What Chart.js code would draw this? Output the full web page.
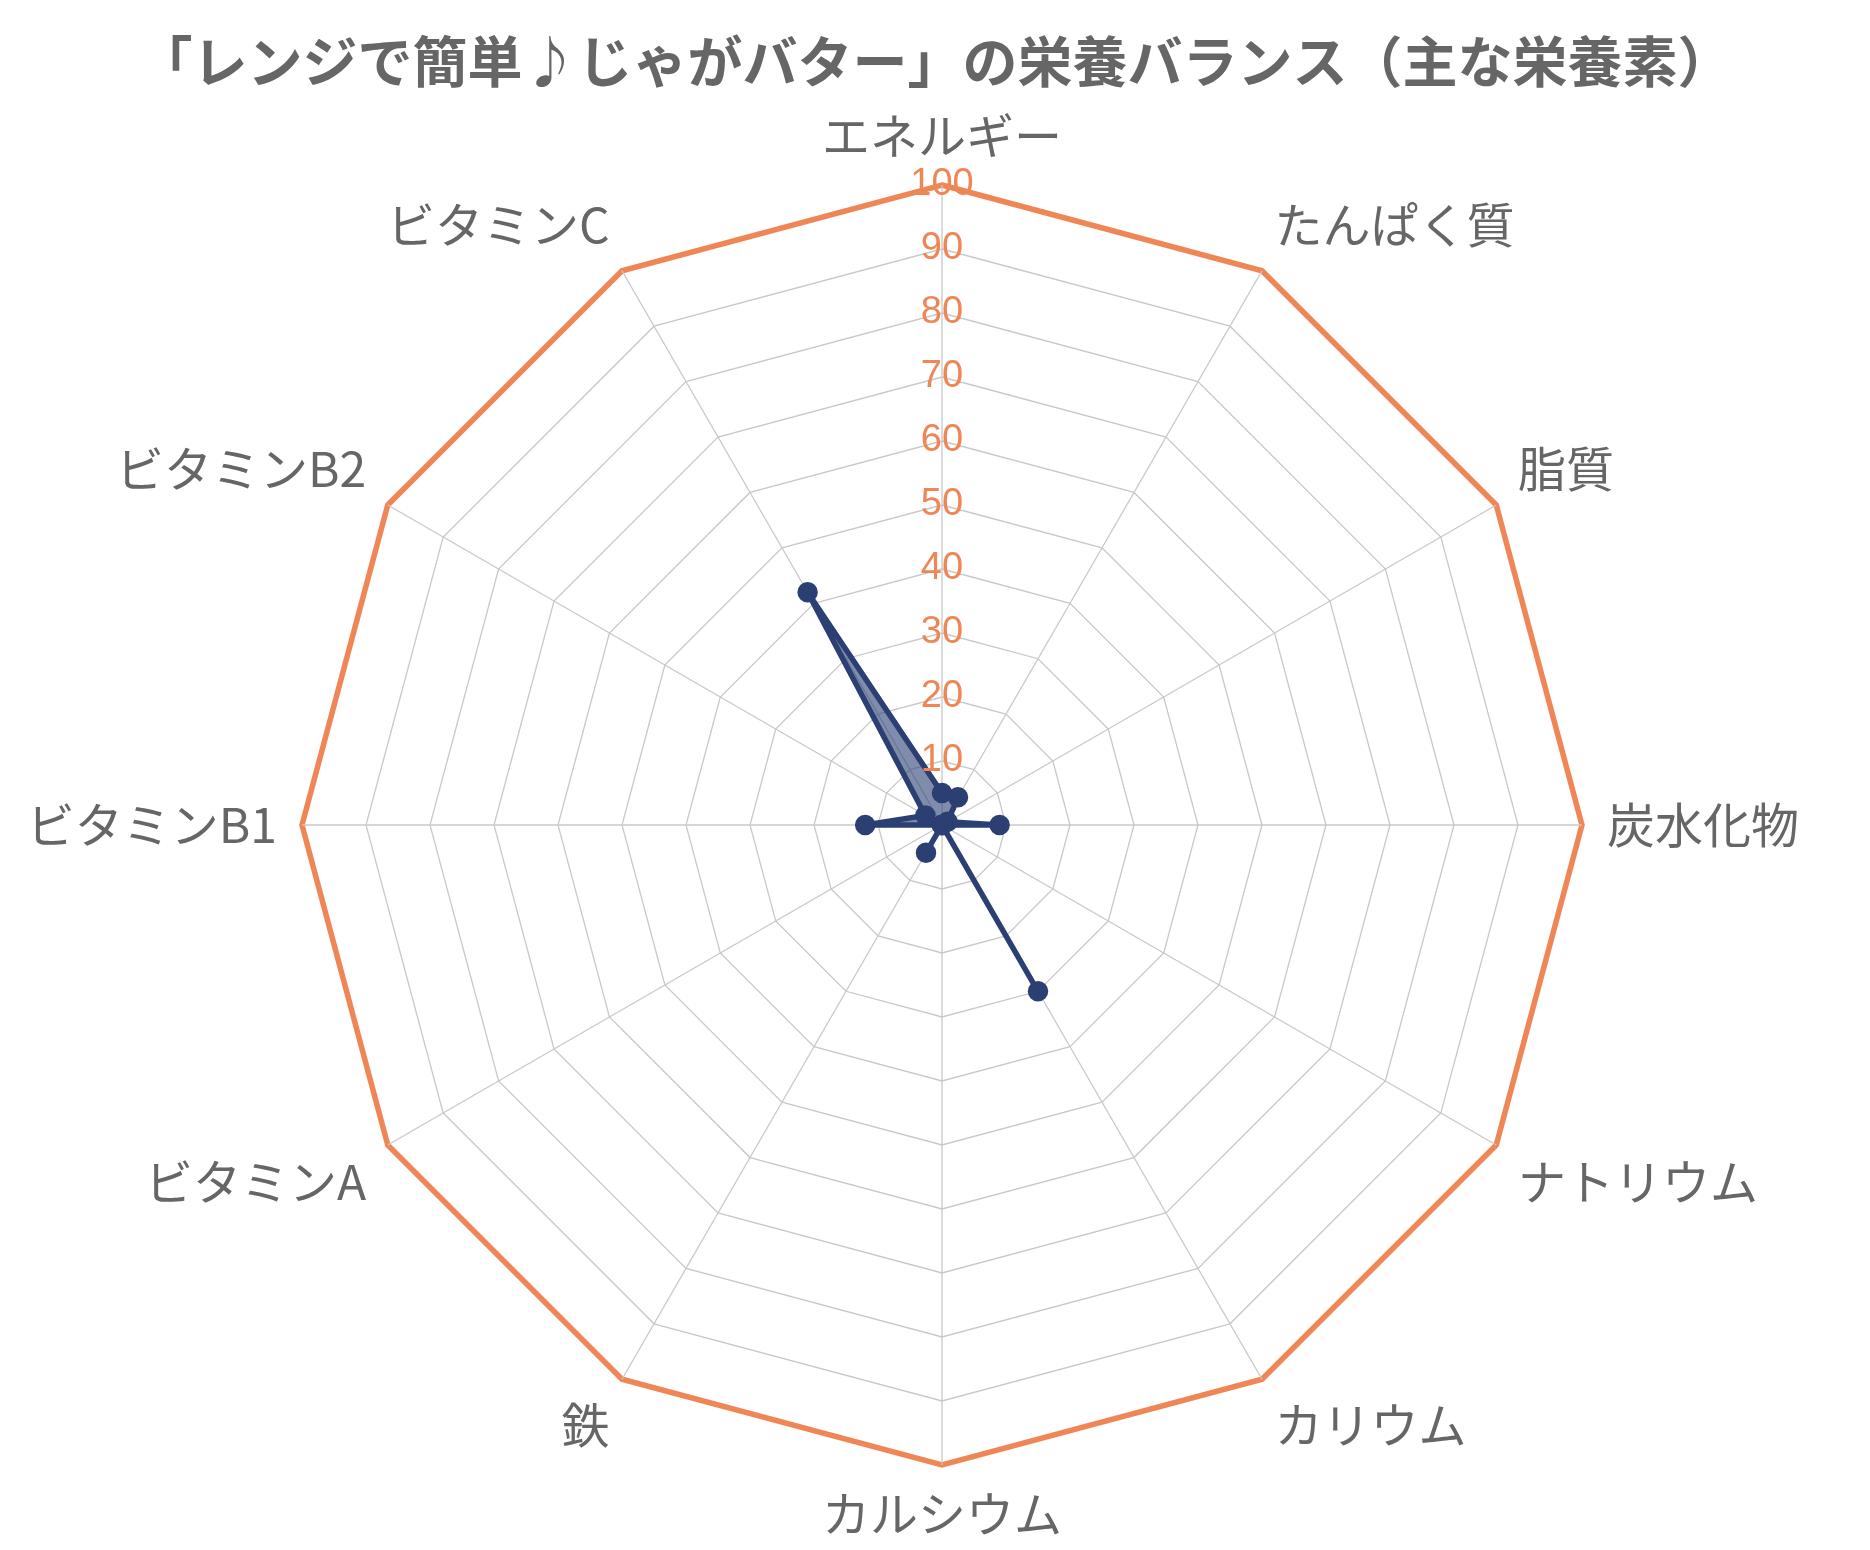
<!DOCTYPE html>
<html lang="ja">
<head>
<meta charset="utf-8">
<script src="https://cdn.jsdelivr.net/npm/chart.js@4/dist/chart.umd.min.js"></script>
<style>
  html, body { margin: 0; padding: 0; background: #ffffff; }
  #wrap { width: 1870px; height: 1550px; position: relative; }
</style>
</head>
<body>
<div id="wrap"><canvas id="c" width="1870" height="1550"></canvas></div>
<script>
const titleText = '「レンジで簡単♪じゃがバター」の栄養バランス（主な栄養素）';
const categories = ['エネルギー', 'たんぱく質', '脂質', '炭水化物', 'ナトリウム', 'カリウム', 'カルシウム', '鉄', 'ビタミンA', 'ビタミンB1', 'ビタミンB2', 'ビタミンC'];
const seriesLabel = '充足率(%)';
const seriesValues = [5, 5, 1, 9, 0, 30, 0, 5, 0, 12, 3, 42];
const tickMin = 0;
const tickMax = 100;
const tickStep = 10;

const FONT = '"Noto Sans CJK JP", "Noto Sans", sans-serif';
const NUMFONT = '"Liberation Sans", Arial, sans-serif';
const ORANGE = '#EF8656';
const NAVY = '#2B3F73';

// centre the title over the whole canvas, not just the padded area
const centreTitle = {
  id: 'centreTitle',
  afterLayout(chart) {
    const t = chart.titleBlock;
    if (t) { t.left = 0; t.right = chart.width; t.width = chart.width; }
  }
};

new Chart(document.getElementById('c'), {
  type: 'radar',
  data: {
    labels: categories,
    datasets: [{
      label: seriesLabel,
      data: seriesValues,
      borderColor: NAVY,
      backgroundColor: 'rgba(43,63,115,0.6)',
      borderWidth: 5.5,
      pointRadius: 7.5,
      pointBackgroundColor: NAVY,
      pointBorderColor: NAVY,
      fill: true
    }]
  },
  plugins: [centreTitle],
  options: {
    responsive: false,
    animation: false,
    layout: { padding: { top: 0, bottom: 12, left: 0, right: 34 } },
    plugins: {
      legend: { display: false },
      tooltip: { enabled: false },
      title: {
        display: true,
        text: titleText,
        color: '#666666',
        font: { family: FONT, size: 55, weight: 'bold' },
        padding: { top: 28, bottom: 18 }
      }
    },
    scales: {
      r: {
        min: tickMin,
        max: tickMax,
        ticks: {
          stepSize: tickStep,
          color: ORANGE,
          showLabelBackdrop: false,
          font: { family: NUMFONT, size: 38 },
          z: 1
        },
        grid: {
          color: (ctx) => ctx.tick && ctx.tick.value === tickMax ? ORANGE : '#c8c8c8',
          lineWidth: (ctx) => ctx.tick && ctx.tick.value === tickMax ? 5.5 : 1.3
        },
        angleLines: { color: '#c8c8c8', lineWidth: 1.3 },
        pointLabels: {
          color: '#666666',
          font: { family: FONT, size: 48, lineHeight: 1.0 },
          padding: 4
        }
      }
    }
  }
});
</script>
</body>
</html>
